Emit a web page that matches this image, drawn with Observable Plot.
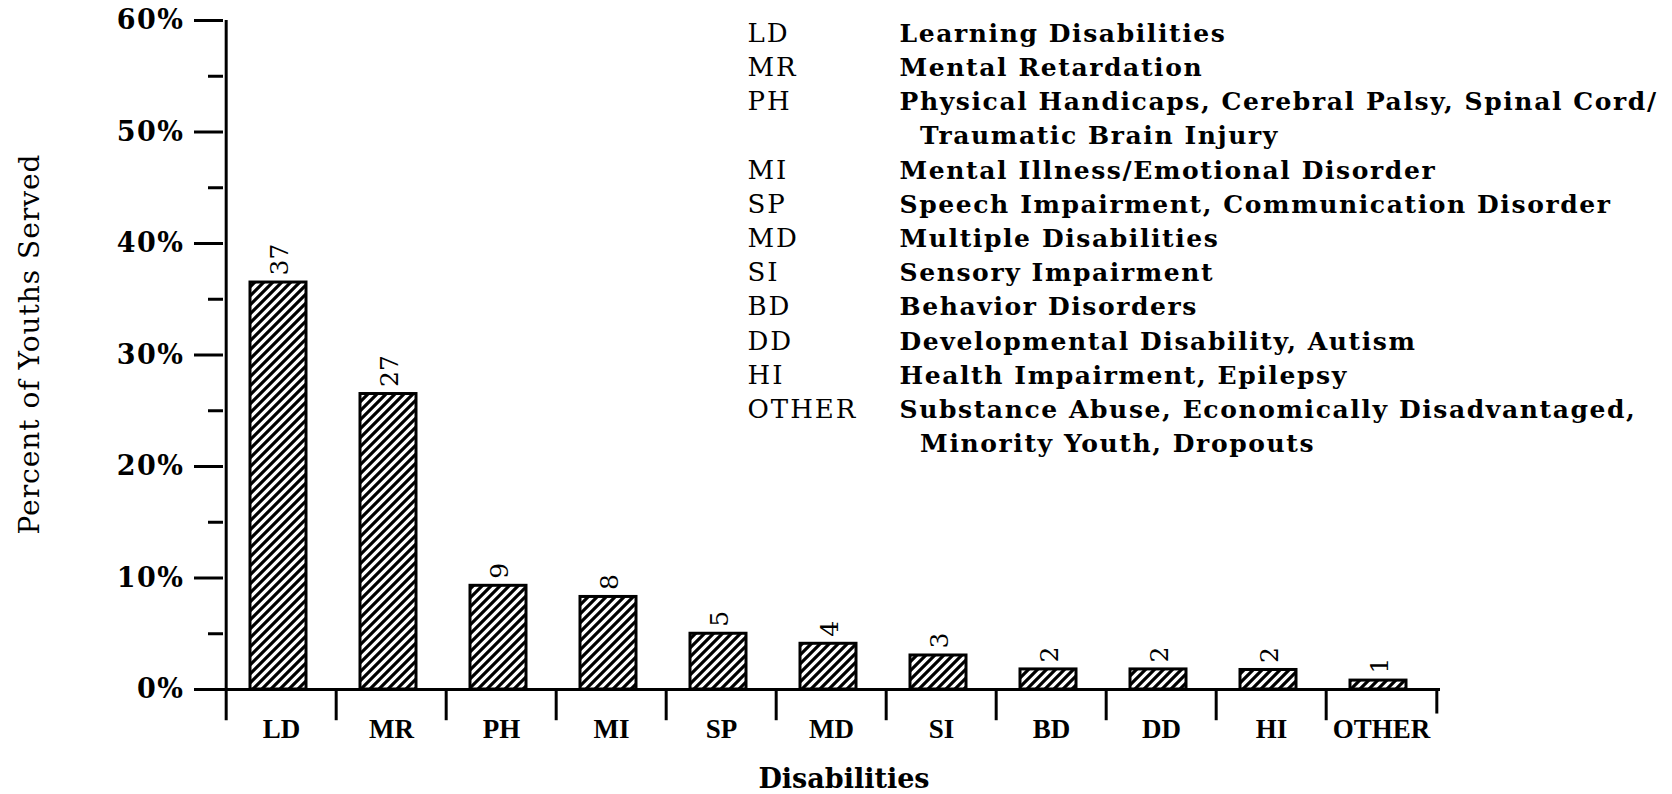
<!DOCTYPE html>
<html>
<head>
<meta charset="utf-8">
<script src="https://cdn.jsdelivr.net/npm/d3@7"></script>
<script src="https://cdn.jsdelivr.net/npm/@observablehq/plot@0.6"></script>
<style>
  html, body { margin: 0; padding: 0; background: #fff; }
  #chart { width: 1672px; height: 794px; }
</style>
</head>
<body>
<svg width="0" height="0" style="position:absolute">
  <defs>
    <pattern id="hatch" patternUnits="userSpaceOnUse" width="9" height="9">
      <rect width="9" height="9" fill="#fff"></rect>
      <path d="M-2,2 L2,-2 M0,9 L9,0 M7,11 L11,7" stroke="#000" stroke-width="3.2"></path>
    </pattern>
  </defs>
</svg>
<div id="chart"></div>
<script>
// ---- data ----
const categories = ["LD", "MR", "PH", "MI", "SP", "MD", "SI", "BD", "DD", "HI", "OTHER"];
const percents   = [36.5, 26.5, 9.3, 8.3, 5.0, 4.1, 3.05, 1.8, 1.8, 1.75, 0.8];
const barLabels  = ["37", "27", "9", "8", "5", "4", "3", "2", "2", "2", "1"];
const yMajorTicks = [0, 10, 20, 30, 40, 50, 60];
const yMinorTicks = [5, 15, 25, 35, 45, 55];
const legendCodes = ["LD", "MR", "PH", "", "MI", "SP", "MD", "SI", "BD", "DD", "HI", "OTHER"];
const legendDescriptions = [
  "Learning Disabilities",
  "Mental Retardation",
  "Physical Handicaps, Cerebral Palsy, Spinal Cord/",
  "\u00a0\u00a0Traumatic Brain Injury",
  "Mental Illness/Emotional Disorder",
  "Speech Impairment, Communication Disorder",
  "Multiple Disabilities",
  "Sensory Impairment",
  "Behavior Disorders",
  "Developmental Disability, Autism",
  "Health Impairment, Epilepsy",
  "Substance Abuse, Economically Disadvantaged,",
  "\u00a0\u00a0Minority Youth, Dropouts"
];
const yTitle = "Percent of Youths Served";
const xTitle = "Disabilities";

// ---- layout ----
const W = 1672, H = 794;
const mL = 223, mR = 232, mT = 20, mB = 105;
const step = (W - mL - mR) / categories.length;
const legendLine = 34.2;

const data = categories.map((c, i) => ({cat: c, value: percents[i], label: barLabels[i]}));
const last = categories[categories.length - 1];

const chart = Plot.plot({
  width: W,
  height: H,
  marginLeft: mL,
  marginRight: mR,
  marginTop: mT,
  marginBottom: mB,
  style: {background: "#fff", color: "#000", fontFamily: "DejaVu Serif", overflow: "visible"},
  x: {domain: categories, paddingInner: 0.49, paddingOuter: 0.245, align: 0.5},
  y: {domain: [0, 60]},
  marks: [
    Plot.barY(data, {x: "cat", y: "value", dx: -3, fill: "url(#hatch)", stroke: "#000", strokeWidth: 3}),
    Plot.ruleY([0], {stroke: "#000", strokeWidth: 3}),
    Plot.ruleX(categories, {x: d => d, dx: -step / 2, y1: (d, i) => i === 0 ? 60 : 0, y2: -2.8, stroke: "#000", strokeWidth: 3}),
    Plot.ruleX([last], {x: d => d, dx: step / 2, y1: 0, y2: -2.2, stroke: "#000", strokeWidth: 3}),
    Plot.axisY({ticks: yMinorTicks, tickSize: 15, tickFormat: () => "", strokeWidth: 3, label: null}),
    Plot.axisY({ticks: yMajorTicks, tickSize: 29, tickPadding: 10, tickFormat: d => d + "%",
      fontSize: 27, fontWeight: "bold", fontFamily: "DejaVu Serif", strokeWidth: 3, label: null}),
    Plot.axisX({tickSize: 0, tickPadding: 29, fontSize: 27, fontWeight: "bold",
      fontFamily: "Liberation Serif", label: null}),
    Plot.text(data, {x: "cat", y: "value", text: "label", rotate: -90, textAnchor: "start",
      lineAnchor: "middle", dx: -2, dy: -7, fontSize: 25, fontFamily: "DejaVu Serif"}),
    // legend
    Plot.text([legendCodes.join("\n")], {text: d => d, frameAnchor: "top-left", textAnchor: "start",
      lineAnchor: "top", dx: 747 - mL, dy: -3, fontSize: 26, lineHeight: legendLine / 26,
      fontFamily: "DejaVu Serif"}),
    Plot.text([legendDescriptions.join("\n")], {text: d => d, frameAnchor: "top-left", textAnchor: "start",
      lineAnchor: "top", dx: 899 - mL, dy: -3, fontSize: 25, lineHeight: legendLine / 25,
      fontFamily: "DejaVu Serif", fontWeight: "bold"}),
    // axis titles
    Plot.text([yTitle], {text: d => d, frameAnchor: "left", textAnchor: "middle", rotate: -90,
      dx: 30 - mL, dy: -11, fontSize: 28, fontFamily: "DejaVu Serif"}),
    Plot.text([xTitle], {text: d => d, frameAnchor: "bottom", lineAnchor: "top", dx: 12, dy: 79,
      fontSize: 27, fontFamily: "DejaVu Serif", fontWeight: "bold"})
  ]
});
document.getElementById("chart").appendChild(chart);

// letter spacing to mimic the wide typewriter-like face of the original
d3.select(chart).selectAll("text").each(function() {
  const t = this.textContent;
  let ls = null;
  if (t.startsWith("Learning")) ls = 1.6;
  else if (t.startsWith("LD") && t.includes("OTHER")) ls = 2;
  else if (t === yTitle) ls = 1;
  else if (/^\d+%$/.test(t)) ls = 1.5;
  if (ls != null) this.style.letterSpacing = ls + "px";
});
</script>
</body>
</html>
